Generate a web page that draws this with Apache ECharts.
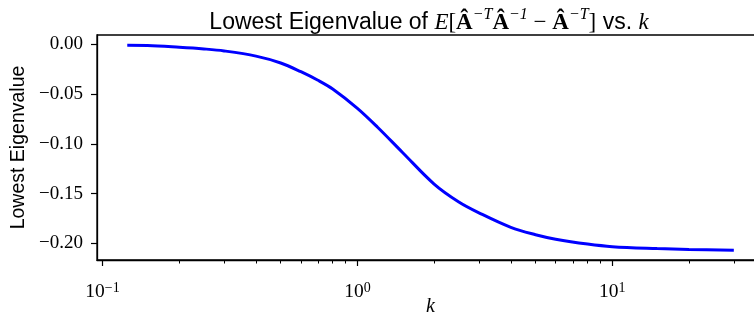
<!DOCTYPE html>
<html>
<head>
<meta charset="utf-8">
<script src="https://cdn.jsdelivr.net/npm/echarts@6/dist/echarts.min.js"></script>
<style>
html,body{margin:0;padding:0;background:#fff;}
#chart{width:754px;height:320px;}
</style>
</head>
<body>
<div id="chart"></div>
<script>
// ---- data ----
var kValues = [0.125, 0.15, 0.2, 0.25, 0.3, 0.4, 0.5, 0.6, 0.7, 0.8, 1, 1.2, 1.5, 2, 2.5, 3, 4, 5, 6, 8, 10, 15, 20, 30];
var lowestEigenvalues = [-0.0011, -0.0013, -0.0030, -0.0047, -0.0067, -0.0119, -0.0188, -0.0276, -0.0362, -0.0450, -0.0644, -0.0834, -0.1085, -0.1405, -0.1585, -0.1694, -0.1840, -0.1914, -0.1959, -0.2008, -0.2034, -0.2053, -0.2062, -0.2070];
var xMajorTicks = [0.1, 1, 10];
var xMinorTicks = [0.2, 0.3, 0.4, 0.5, 0.6, 0.7, 0.8, 0.9, 2, 3, 4, 5, 6, 7, 8, 9, 20, 30];
var yTicks = [0, -0.05, -0.10, -0.15, -0.20];

var xMin = 0.0951, xMax = 39.4;
var yMin = -0.2168, yMax = 0.0093;

var seriesData = kValues.map(function (k, i) { return [k, lowestEigenvalues[i]]; });

var serif = 'Liberation Serif';
var sans = 'Liberation Sans';

var chart = echarts.init(document.getElementById('chart'), null, {renderer: 'canvas'});
chart.setOption({
  animation: false,
  backgroundColor: '#fff',
  title: {
    left: 424,
    top: 2,
    textAlign: 'center',
    text: '{s|Lowest Eigenvalue of }{mi|E}{m|[}{b|Â}{sup|−T}{b|Â}{sup|−1}{m| − }{b|Â}{sup|−T}{m|]}{s| vs. }{mi|k}',
    textStyle: {
      fontWeight: 'normal',
      rich: {
        s: {fontFamily: sans, fontWeight: 'normal', fontSize: 23, color: '#000', lineHeight: 32},
        m: {fontFamily: serif, fontWeight: 'normal', fontSize: 23, color: '#000', lineHeight: 32},
        mi: {fontFamily: serif, fontWeight: 'normal', fontStyle: 'italic', fontSize: 23, color: '#000', lineHeight: 32},
        b: {fontFamily: serif, fontWeight: 'bold', fontSize: 23, color: '#000', lineHeight: 32},
        sup: {fontFamily: serif, fontWeight: 'normal', fontStyle: 'italic', fontSize: 16, color: '#000', verticalAlign: 'top', lineHeight: 22}
      }
    }
  },
  grid: {
    left: 97, top: 35, right: -10, bottom: 60,
    containLabel: false, outerBoundsMode: 'none',
    show: true, borderColor: '#000', borderWidth: 1.3, backgroundColor: '#fff'
  },
  xAxis: [{
    type: 'log', logBase: 10, min: xMin, max: xMax, position: 'bottom',
    name: 'k', nameLocation: 'middle', nameGap: 37, nameMoveOverlap: false,
    nameTextStyle: {fontFamily: serif, fontStyle: 'italic', fontSize: 20, color: '#000'},
    axisLine: {show: true, onZero: false, lineStyle: {color: '#000', width: 1.3}},
    axisTick: {show: true, length: 6, lineStyle: {color: '#000', width: 1.2}, customValues: xMajorTicks},
    axisLabel: {
      show: true, margin: 21, customValues: xMajorTicks,
      formatter: function (v) {
        var e = Math.round(Math.log10(v));
        return '{b|10}{e|' + (e < 0 ? '−' + (-e) : '' + e) + '}';
      },
      rich: {
        b: {fontFamily: serif, fontSize: 19.5, color: '#000', lineHeight: 22},
        e: {fontFamily: serif, fontSize: 14, color: '#000', verticalAlign: 'top', lineHeight: 14}
      }
    },
    splitLine: {show: false}, minorTick: {show: false}, minorSplitLine: {show: false}
  }, {
    type: 'log', logBase: 10, min: xMin, max: xMax, gridIndex: 0, position: 'bottom',
    axisLine: {show: false, onZero: false},
    axisTick: {show: true, length: 3.5, lineStyle: {color: '#000', width: 1}, customValues: xMinorTicks},
    axisLabel: {show: false},
    splitLine: {show: false}
  }],
  yAxis: {
    type: 'value', min: yMin, max: yMax,
    name: 'Lowest Eigenvalue', nameLocation: 'middle', nameGap: 68, nameRotate: 90, nameMoveOverlap: false,
    nameTextStyle: {fontFamily: sans, fontSize: 19.5, color: '#000'},
    axisLine: {show: true, onZero: false, lineStyle: {color: '#000', width: 1.3}},
    axisTick: {show: true, length: 6, lineStyle: {color: '#000', width: 1.2}, customValues: yTicks},
    axisLabel: {
      show: true, margin: 14, customValues: yTicks,
      fontFamily: serif, fontSize: 19, color: '#000',
      formatter: function (v) {
        var s = Math.abs(v).toFixed(2);
        return (v < -1e-9 ? '−' : '') + s;
      }
    },
    splitLine: {show: false}
  },
  series: [{
    type: 'line',
    data: seriesData,
    xAxisIndex: 0,
    showSymbol: false,
    smooth: 0.35,
    lineStyle: {color: '#0000ff', width: 3},
    itemStyle: {color: '#0000ff'}
  }]
});
</script>
</body>
</html>
